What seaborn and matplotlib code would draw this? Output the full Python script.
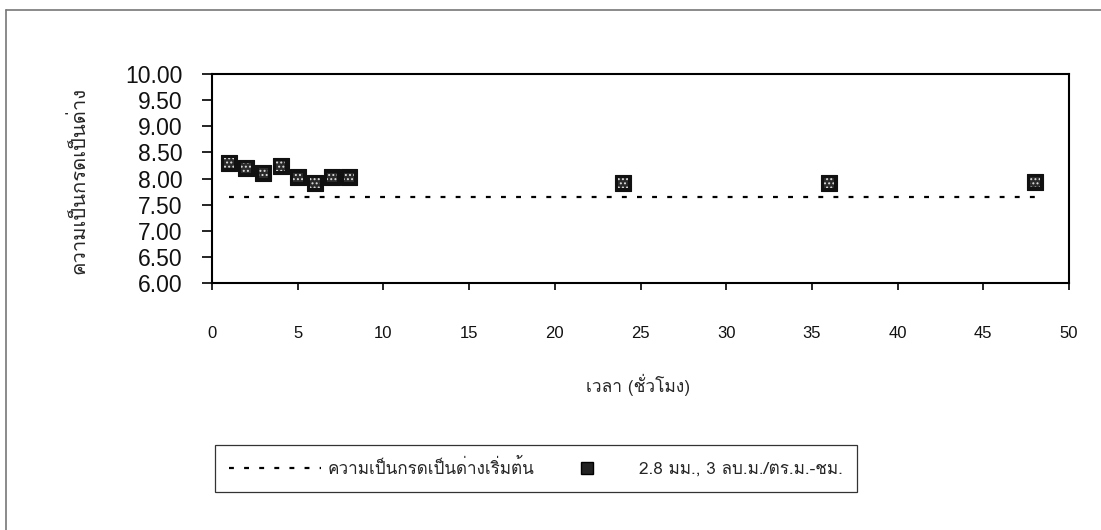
import matplotlib
matplotlib.use("Agg")
import matplotlib.pyplot as plt
from matplotlib import font_manager
from matplotlib.ft2font import FT2Font
from matplotlib.lines import Line2D
import seaborn as sns
import pandas as pd

# ---------------- data ----------------
hours = [1, 2, 3, 4, 5, 6, 7, 8, 24, 36, 48]
ph_values = [8.29, 8.20, 8.11, 8.24, 8.02, 7.91, 8.02, 8.02, 7.91, 7.91, 7.94]
initial_hours = [1, 48]
initial_ph = [7.64, 7.64]
x_ticks = [0, 5, 10, 15, 20, 25, 30, 35, 40, 45, 50]
y_ticks = [6.0, 6.5, 7.0, 7.5, 8.0, 8.5, 9.0, 9.5, 10.0]
series_label = "2.8 มม., 3 ลบ.ม./ตร.ม.-ชม."
initial_label = "ความเป็นกรดเป็นด่างเริ่มต้น"
x_label = "เวลา (ชั่วโมง)"
y_label = "ความเป็นกรดเป็นด่าง"

# ---------------- fonts ----------------
def find_thai_font():
    names = []
    for f in font_manager.fontManager.ttflist:
        try:
            cm = FT2Font(f.fname).get_charmap()
        except Exception:
            continue
        if 0x0E01 in cm and 0x0E27 in cm:
            names.append(f.name)
    pref = [n for n in names if "Sans" in n or "Loma" in n or "Tahoma" in n]
    return (pref or names or [None])[0]

thai = find_thai_font()
latin = "Liberation Sans"
thai_family = [thai, latin, "DejaVu Sans"] if thai else [latin, "DejaVu Sans"]

sns.set_theme(style="white")
plt.rcParams["font.family"] = thai_family
plt.rcParams["hatch.linewidth"] = 0.9

df = pd.DataFrame({"hours": hours, "ph": ph_values})
base = pd.DataFrame({"hours": initial_hours, "ph": initial_ph})

fig = plt.figure(figsize=(11.01, 5.30), dpi=100)
ax = fig.add_axes([212 / 1101, 1 - 283 / 530, (1069 - 212) / 1101, (283 - 74) / 530])

sns.lineplot(data=base, x="hours", y="ph", ax=ax, color="black", lw=1.6,
             linestyle=(0, (2.2, 4.6)), legend=False)
sns.scatterplot(data=df, x="hours", y="ph", ax=ax, marker="s", s=120,
                color="#111111", edgecolor="#111111", linewidth=0.8, legend=False, zorder=3)
sns.scatterplot(data=df, x="hours", y="ph", ax=ax, marker="s", s=50,
                color="#2a2a2a", edgecolor="#dddddd", linewidth=0, hatch="....",
                legend=False, zorder=4)

ax.set_xlim(0, 50)
ax.set_ylim(6, 10)
ax.set_xticks(x_ticks)
ax.set_yticks(y_ticks)
ax.set_yticklabels([f"{v:.2f}" for v in y_ticks], family=[latin, "DejaVu Sans"], fontsize=16.5)
ax.set_xticklabels([str(v) for v in x_ticks], family=[latin, "DejaVu Sans"], fontsize=12)
ax.tick_params(axis="y", direction="out", length=7, width=1.2, color="black", pad=14,
               left=True, labelcolor="#111111")
ax.tick_params(axis="x", direction="out", length=5, width=1.2, color="black", pad=26,
               bottom=True, labelcolor="#111111")
for sp in ax.spines.values():
    sp.set_color("black")
    sp.set_linewidth(1.5)
ax.set_xlabel("")
ax.set_ylabel("")
fig.text(638 / 1101, 1 - 385 / 530, x_label, ha="center", va="center", fontsize=12.5,
         family=thai_family)
fig.text(78 / 1101, 1 - 180 / 530, y_label, ha="center", va="center", rotation=90,
         fontsize=14.5, family=thai_family)

# outer frame
fig.add_artist(Line2D([6 / 1101, 1.0], [1 - 10 / 530, 1 - 10 / 530], color="#777777", lw=1.2))
fig.add_artist(Line2D([6 / 1101, 6 / 1101], [0.0, 1 - 10 / 530], color="#777777", lw=1.2))

handles = [
    Line2D([0], [0], color="black", lw=1.6, linestyle=(0, (2.2, 4.6))),
    Line2D([0], [0], color="#222222", marker="s", markersize=8, linestyle="none",
           markeredgecolor="black"),
]
leg = fig.legend(handles, [initial_label, series_label], loc="center",
                 bbox_to_anchor=(536 / 1101, 1 - 468.5 / 530), ncol=2,
                 frameon=True, fancybox=False, edgecolor="black",
                 handlelength=5.4, handletextpad=0.35, columnspacing=0.4,
                 borderpad=0.8, prop={"family": thai_family, "size": 12.3})
leg.get_frame().set_linewidth(0.9)

fig.savefig("out.png", dpi=100)
